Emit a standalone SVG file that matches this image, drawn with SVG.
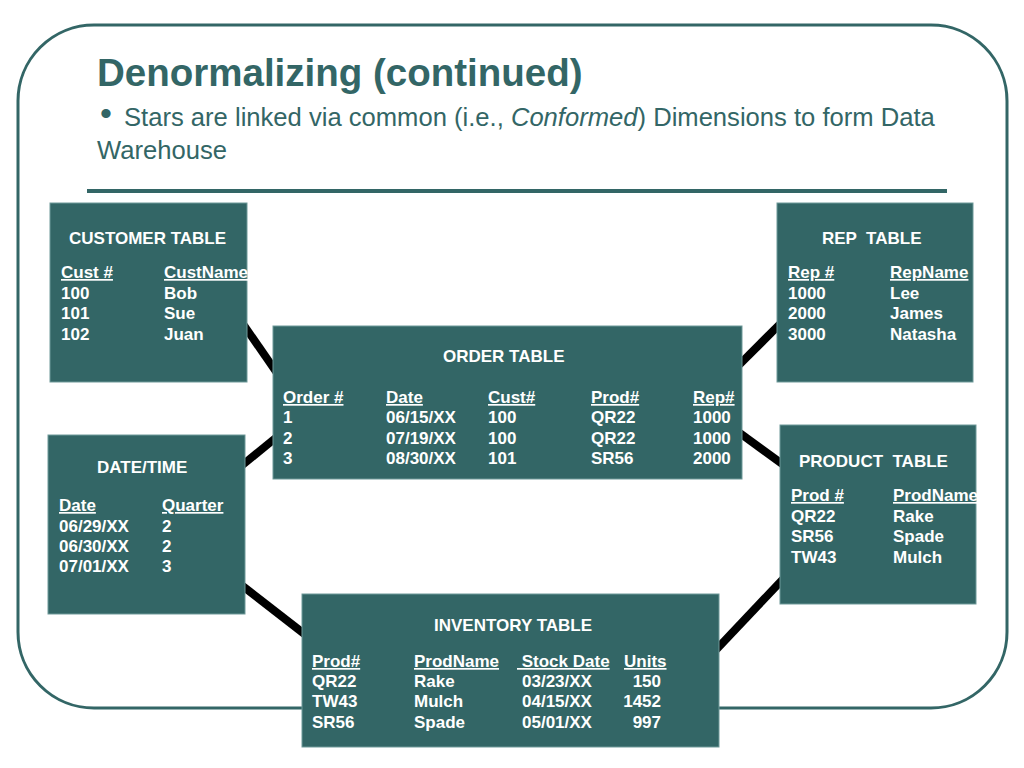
<svg xmlns="http://www.w3.org/2000/svg" width="1024" height="768" viewBox="0 0 1024 768">
<style>
.frame{fill:none;stroke:#336666;stroke-width:3}
.box{fill:#336666;stroke:#6f9999;stroke-width:1}
.t{font-family:"Liberation Sans",Arial,Helvetica,sans-serif;font-weight:bold;font-size:17px;fill:#ffffff}
.u{text-decoration:underline}
.e{text-anchor:end}
.conn{stroke:#000000;stroke-width:8;fill:none}
.title{font-family:"Liberation Sans",Arial,Helvetica,sans-serif;font-weight:bold;font-size:38.5px;fill:#336666}
.sub{font-family:"Liberation Sans",Arial,Helvetica,sans-serif;font-size:25.6px;fill:#336666}
.bullet{font-family:"Liberation Sans",Arial,Helvetica,sans-serif;font-size:34px;fill:#336666}
</style>
<rect width="1024" height="768" fill="#ffffff"/>
<rect class="frame" x="18" y="25" width="989" height="683" rx="76" ry="76"/>
<text class="title" x="97" y="86">Denormalizing (continued)</text>
<text class="bullet" x="100" y="125">•</text>
<text class="sub" x="124" y="126">Stars are linked via common (i.e., <tspan font-style="italic">Conformed</tspan>) Dimensions to form Data</text>
<text class="sub" x="97" y="159">Warehouse</text>
<line x1="87" y1="191" x2="947" y2="191" stroke="#336666" stroke-width="4"/>
<g id="connectors">
<line class="conn" x1="243" y1="324" x2="277" y2="373"/>
<line class="conn" x1="240" y1="467" x2="278" y2="436"/>
<line class="conn" x1="240" y1="584" x2="307" y2="636"/>
<line class="conn" x1="737" y1="367" x2="782" y2="322"/>
<line class="conn" x1="737" y1="431" x2="785" y2="466"/>
<line class="conn" x1="714" y1="652" x2="785" y2="577"/>
</g>
<g id="customer">
<rect class="box" x="50" y="203" width="197" height="179"/>
<text class="t" x="69" y="244">CUSTOMER TABLE</text>
<text class="t u" x="61" y="278">Cust #</text>
<text class="t u" x="164" y="278">CustName</text>
<text class="t" x="61" y="299">100</text><text class="t" x="164" y="299">Bob</text>
<text class="t" x="61" y="319">101</text><text class="t" x="164" y="319">Sue</text>
<text class="t" x="61" y="340">102</text><text class="t" x="164" y="340">Juan</text>
</g>
<g id="rep">
<rect class="box" x="777" y="203" width="196" height="179"/>
<text class="t" x="822" y="244" xml:space="preserve">REP  TABLE</text>
<text class="t u" x="788" y="278">Rep #</text>
<text class="t u" x="890" y="278">RepName</text>
<text class="t" x="788" y="299">1000</text><text class="t" x="890" y="299">Lee</text>
<text class="t" x="788" y="319">2000</text><text class="t" x="890" y="319">James</text>
<text class="t" x="788" y="340">3000</text><text class="t" x="890" y="340">Natasha</text>
</g>
<g id="order">
<rect class="box" x="273" y="326" width="469" height="153"/>
<text class="t" x="443" y="362">ORDER TABLE</text>
<text class="t u" x="283" y="403">Order #</text>
<text class="t u" x="386" y="403">Date</text>
<text class="t u" x="488" y="403">Cust#</text>
<text class="t u" x="591" y="403">Prod#</text>
<text class="t u" x="693" y="403">Rep#</text>
<text class="t" x="283" y="423">1</text><text class="t" x="386" y="423">06/15/XX</text><text class="t" x="488" y="423">100</text><text class="t" x="591" y="423">QR22</text><text class="t" x="693" y="423">1000</text>
<text class="t" x="283" y="444">2</text><text class="t" x="386" y="444">07/19/XX</text><text class="t" x="488" y="444">100</text><text class="t" x="591" y="444">QR22</text><text class="t" x="693" y="444">1000</text>
<text class="t" x="283" y="464">3</text><text class="t" x="386" y="464">08/30/XX</text><text class="t" x="488" y="464">101</text><text class="t" x="591" y="464">SR56</text><text class="t" x="693" y="464">2000</text>
</g>
<g id="datetime">
<rect class="box" x="48" y="435" width="197" height="179"/>
<text class="t" x="97" y="473">DATE/TIME</text>
<text class="t u" x="59" y="511">Date</text>
<text class="t u" x="162" y="511">Quarter</text>
<text class="t" x="59" y="532">06/29/XX</text><text class="t" x="162" y="532">2</text>
<text class="t" x="59" y="552">06/30/XX</text><text class="t" x="162" y="552">2</text>
<text class="t" x="59" y="572">07/01/XX</text><text class="t" x="162" y="572">3</text>
</g>
<g id="product">
<rect class="box" x="780" y="425" width="196" height="179"/>
<text class="t" x="799" y="467" xml:space="preserve">PRODUCT  TABLE</text>
<text class="t u" x="791" y="501">Prod #</text>
<text class="t u" x="893" y="501">ProdName</text>
<text class="t" x="791" y="522">QR22</text><text class="t" x="893" y="522">Rake</text>
<text class="t" x="791" y="542">SR56</text><text class="t" x="893" y="542">Spade</text>
<text class="t" x="791" y="563">TW43</text><text class="t" x="893" y="563">Mulch</text>
</g>
<g id="inventory">
<rect class="box" x="302" y="594" width="417" height="153"/>
<text class="t" x="434" y="631">INVENTORY TABLE</text>
<text class="t u" x="312" y="667">Prod#</text>
<text class="t u" x="414" y="667">ProdName</text>
<text class="t u" x="517" y="667" xml:space="preserve"> Stock Date</text>
<text class="t u" x="624" y="667">Units</text>
<text class="t" x="312" y="687">QR22</text><text class="t" x="414" y="687">Rake</text><text class="t" x="522" y="687">03/23/XX</text><text class="t e" x="661" y="687">150</text>
<text class="t" x="312" y="707">TW43</text><text class="t" x="414" y="707">Mulch</text><text class="t" x="522" y="707">04/15/XX</text><text class="t e" x="661" y="707">1452</text>
<text class="t" x="312" y="728">SR56</text><text class="t" x="414" y="728">Spade</text><text class="t" x="522" y="728">05/01/XX</text><text class="t e" x="661" y="728">997</text>
</g>
</svg>
